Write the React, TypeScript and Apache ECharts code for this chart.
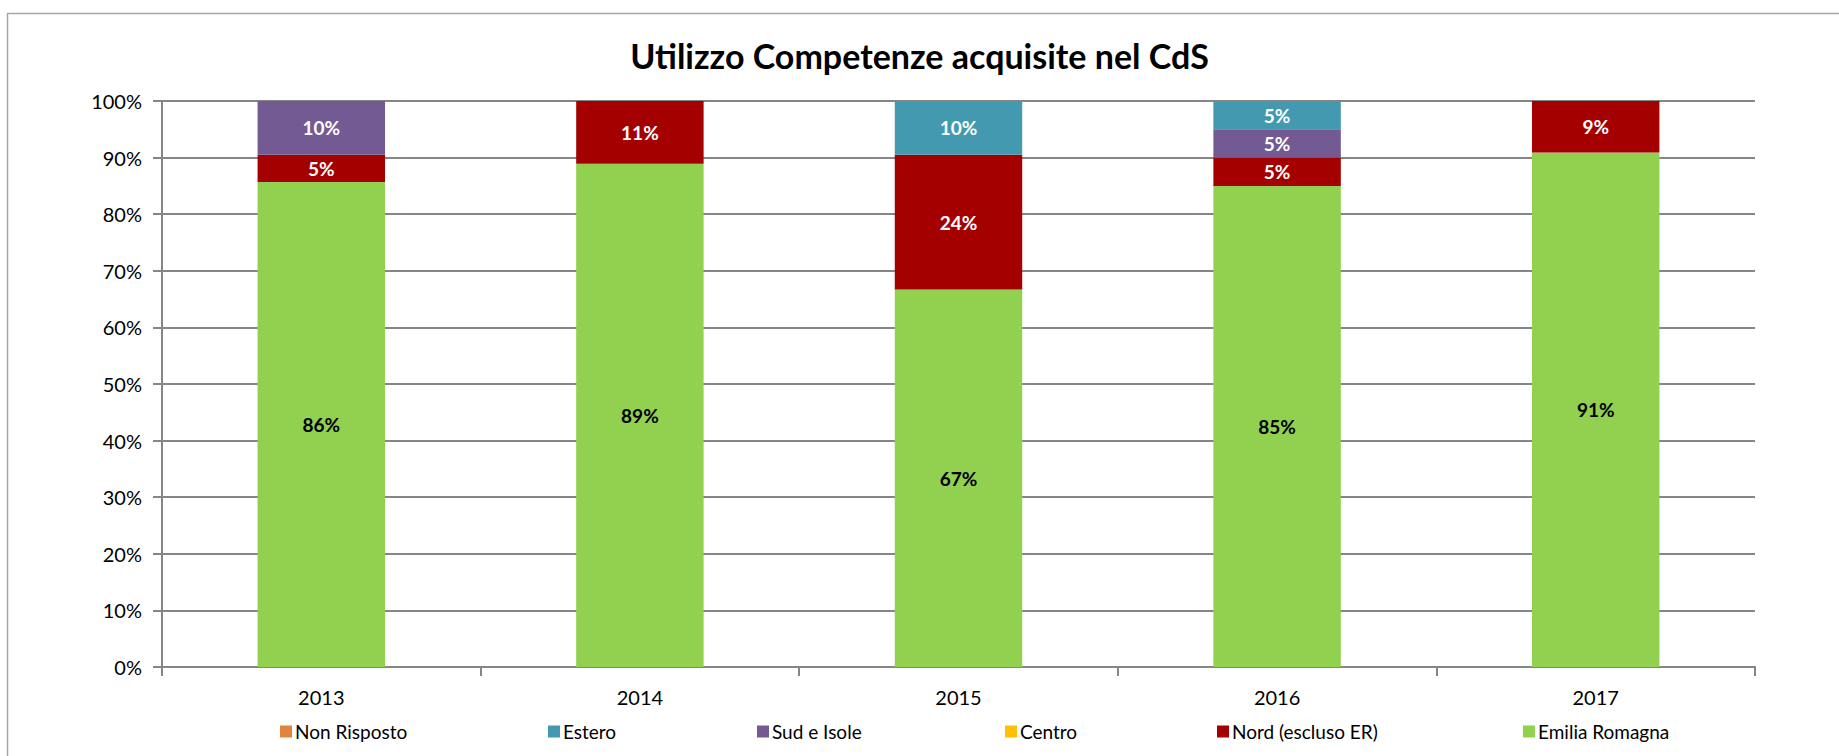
import React, { useEffect, useRef } from "react";
import * as echarts from "echarts";

const categories = ["2013", "2014", "2015", "2016", "2017"];
const seriesNames = ["Emilia Romagna", "Nord (escluso ER)", "Centro", "Sud e Isole", "Estero", "Non Risposto"];
const emiliaRomagna = [85.7, 88.9, 66.7, 85, 90.9];
const nord = [4.8, 11.1, 23.8, 5, 9.1];
const centro = [0, 0, 0, 0, 0];
const sudIsole = [9.5, 0, 0, 5, 0];
const estero = [0, 0, 9.5, 5, 0];
const nonRisposto = [0, 0, 0, 0, 0];
const yTicks = [0, 10, 20, 30, 40, 50, 60, 70, 80, 90, 100];
const legendOrder = ["Non Risposto", "Estero", "Sud e Isole", "Centro", "Nord (escluso ER)", "Emilia Romagna"];

const colors: Record<string, string> = {
  "Emilia Romagna": "#92D050",
  "Nord (escluso ER)": "#A50000",
  "Centro": "#FFC000",
  "Sud e Isole": "#735A92",
  "Estero": "#4299B0",
  "Non Risposto": "#E0843E",
};

const FONT = "Lato";

export default function App() {
  const ref = useRef<HTMLDivElement>(null);
  useEffect(() => {
    document.body.style.margin = "0";
    if (!ref.current) return;
    const chart = echarts.init(ref.current, null, { renderer: "svg" });
    const values = [emiliaRomagna, nord, centro, sudIsole, estero, nonRisposto];
    const legendLeft = [275, 543, 752, 1000, 1212, 1518];
    const series = seriesNames.map((name, i) => ({
      name,
      type: "bar",
      stack: "total",
      barWidth: "40%",
      data: values[i].map((v) => (v === 0 ? null : v)),
      itemStyle: { color: colors[name] },
      label: {
        show: true,
        position: "inside",
        fontFamily: FONT,
        fontWeight: "bold",
        fontSize: 19,
        color: name === "Emilia Romagna" ? "#000000" : "#FFFFFF",
        formatter: (p: any) => (p.value == null ? "" : Math.round(p.value) + "%"),
      },
    }));
    chart.setOption({
      animation: false,
      backgroundColor: "#FFFFFF",
      title: {
        text: "Utilizzo Competenze acquisite nel CdS",
        left: "center",
        top: 33,
        textStyle: { fontFamily: FONT, fontWeight: "bold", fontSize: 34, color: "#000" },
      },
      graphic: [
        {
          type: "rect",
          z: -10,
          shape: { x: 7.5, y: 13.5, width: 1900, height: 900 },
          style: { fill: "none", stroke: "#A6A6A6", lineWidth: 1.5 },
        },
      ],
      legend: legendOrder.map((name, i) => ({
        data: [name],
        left: legendLeft[i],
        top: 717,
        icon: "rect",
        itemWidth: 12,
        itemHeight: 12,
        textStyle: { fontFamily: FONT, fontSize: 19, color: "#000", padding: [0, 0, 0, -2] },
        selectedMode: false,
      })),
      grid: { left: 162, right: 84, top: 101, bottom: 89 },
      xAxis: {
        type: "category",
        data: categories,
        axisLine: { lineStyle: { color: "#868686", width: 2 } },
        axisTick: { show: true, length: 9, lineStyle: { color: "#868686", width: 2 } },
        axisLabel: { fontFamily: FONT, fontSize: 20, color: "#000", margin: 20 },
      },
      yAxis: {
        type: "value",
        min: 0,
        max: 100,
        interval: 10,
        axisLine: { show: true, lineStyle: { color: "#868686", width: 2 } },
        axisTick: { show: true, length: 9, lineStyle: { color: "#868686", width: 2 } },
        splitLine: { lineStyle: { color: "#868686", width: 2 } },
        axisLabel: {
          fontFamily: FONT,
          fontSize: 20,
          color: "#000",
          margin: 20,
          formatter: (v: number) => (yTicks.includes(v) ? v + "%" : ""),
        },
      },
      series,
    });
    return () => chart.dispose();
  }, []);
  return <div ref={ref} style={{ width: 1839, height: 756 }} />;
}
